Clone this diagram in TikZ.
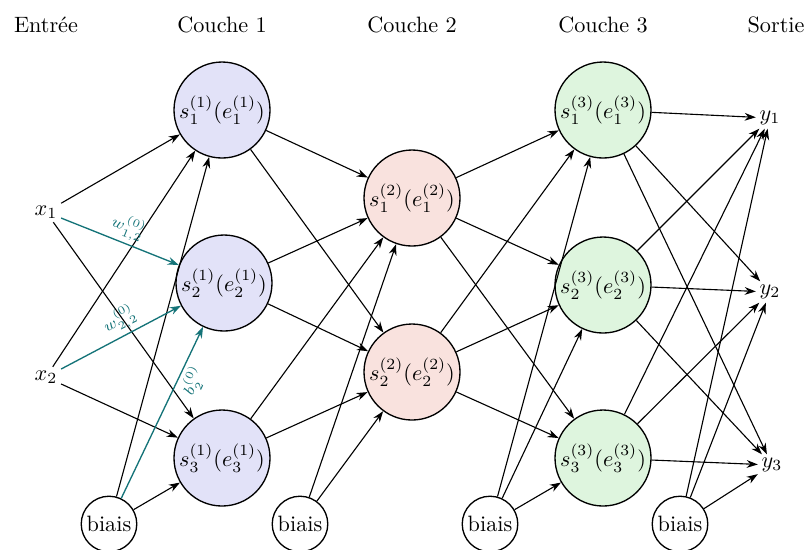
\documentclass[tikz,border=0pt]{standalone}
\usetikzlibrary{arrows.meta}
\definecolor{lay1}{RGB}{226,226,248}
\definecolor{lay2}{RGB}{249,226,222}
\definecolor{lay3}{RGB}{222,245,222}
\definecolor{tealc}{RGB}{20,115,120}
\begin{document}
\begin{tikzpicture}[x=0.45pt,y=-0.45pt,
  neuron/.style={circle,draw,line width=0.6pt,minimum size=43.2pt,inner sep=0pt},
  biasnode/.style={circle,draw,line width=0.6pt,minimum size=25pt,inner sep=0pt},
  io/.style={inner sep=1.5pt},
  hdr/.style={inner sep=0pt},
  conn/.style={-{Stealth[length=5pt,width=3.5pt]},line width=0.5pt},
  tconn/.style={conn,draw=tealc,line width=0.6pt},
  tlab/.style={text=tealc,font=\scriptsize,sloped,inner sep=1.5pt}]
\useasboundingbox (0,0) rectangle (806,549);
% headers
\node[hdr] (h0) at (46,25) {Entrée};
\node[hdr] (h1) at (222,25) {Couche 1};
\node[hdr] (h2) at (412,25) {Couche 2};
\node[hdr] (h3) at (603,25) {Couche 3};
\node[hdr] (h4) at (776,25) {Sortie};
% inputs
\node[io] (x1) at (46,212) {$x_1$};
\node[io] (x2) at (46,377) {$x_2$};
% layer 1
\node[neuron,fill=lay1] (a1) at (222,110) {$s_1^{(1)}(e_1^{(1)})$};
\node[neuron,fill=lay1] (a2) at (224,283) {$s_2^{(1)}(e_2^{(1)})$};
\node[neuron,fill=lay1] (a3) at (222,458) {$s_3^{(1)}(e_3^{(1)})$};
% layer 2
\node[neuron,fill=lay2] (b1) at (412,198) {$s_1^{(2)}(e_1^{(2)})$};
\node[neuron,fill=lay2] (b2) at (412,372) {$s_2^{(2)}(e_2^{(2)})$};
% layer 3
\node[neuron,fill=lay3] (c1) at (603,110) {$s_1^{(3)}(e_1^{(3)})$};
\node[neuron,fill=lay3] (c2) at (603,285) {$s_2^{(3)}(e_2^{(3)})$};
\node[neuron,fill=lay3] (c3) at (603,458) {$s_3^{(3)}(e_3^{(3)})$};
% outputs
\node[io] (y1) at (770,118) {$y_1$};
\node[io] (y2) at (770,292) {$y_2$};
\node[io] (y3) at (772,465) {$y_3$};
% biases
\node[biasnode] (p0) at (109,524) {biais};
\node[biasnode] (p1) at (300,524) {biais};
\node[biasnode] (p2) at (490,524) {biais};
\node[biasnode] (p3) at (680,524) {biais};
% input -> layer 1
\draw[conn] (x1) -- (a1);
\draw[conn] (x1) -- (a3);
\draw[conn] (x2) -- (a1);
\draw[conn] (x2) -- (a3);
\draw[conn] (p0) -- (a1);
\draw[conn] (p0) -- (a3);
\draw[tconn] (x1) -- node[tlab,above,pos=0.52] {$w_{1,2}^{(0)}$} (a2);
\draw[tconn] (x2) -- node[tlab,above,pos=0.55] {$w_{2,2}^{(0)}$} (a2);
\draw[tconn] (p0) -- node[tlab,below,pos=0.72] {$b_2^{(0)}$} (a2);
% layer 1 -> layer 2
\foreach \s in {a1,a2,a3}{\foreach \t in {b1,b2}{\draw[conn] (\s) -- (\t);}}
\foreach \t in {b1,b2}{\draw[conn] (p1) -- (\t);}
% layer 2 -> layer 3
\foreach \s in {b1,b2}{\foreach \t in {c1,c2,c3}{\draw[conn] (\s) -- (\t);}}
\foreach \t in {c1,c2,c3}{\draw[conn] (p2) -- (\t);}
% layer 3 -> outputs
\foreach \s in {c1,c2,c3}{\foreach \t in {y1,y2,y3}{\draw[conn] (\s) -- (\t);}}
\foreach \t in {y1,y2,y3}{\draw[conn] (p3) -- (\t);}
\end{tikzpicture}
\end{document}
